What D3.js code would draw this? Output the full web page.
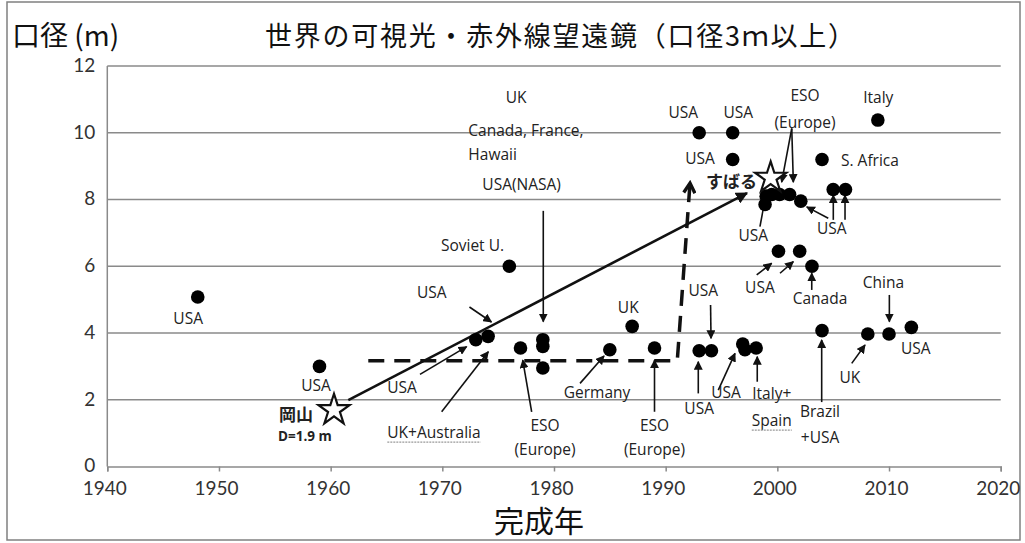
<!DOCTYPE html>
<html><head><meta charset="utf-8">
<script src="https://cdn.jsdelivr.net/npm/d3@7"></script>
<style>body{margin:0;background:#fff}svg{display:block}</style>
</head><body>
<svg id="c" width="1025" height="543"></svg>
<script>
// ---- data ----
const titleText = "世界の可視光・赤外線望遠鏡（口径3ｍ以上）";
const yAxisTitle = "口径 (m)";
const xAxisTitle = "完成年";
const xTicks = [1940,1950,1960,1970,1980,1990,2000,2010,2020];
const yTicks = [0,2,4,6,8,10,12];
const years = [1948.1,1959.0,1973.0,1974.1,1976.0,1977.0,1979.0,1979.0,1979.0,1985.0,1987.0,1989.0,
  1993.0,1994.1,1996.9,1997.1,1998.1,1993.0,1996.0,1996.0,1998.9,1999.0,1999.5,2000.2,2001.1,2002.1,
  2000.1,2002.0,2003.1,2004.0,2005.0,2006.1,2004.0,2008.1,2010.0,2012.0,2009.0];
const diam = [5.08,3.0,3.8,3.9,6.0,3.55,3.8,3.6,2.95,3.5,4.2,3.55,
  3.47,3.47,3.67,3.5,3.55,10.0,10.0,9.2,7.85,8.1,8.15,8.15,8.15,7.95,
  6.45,6.45,6.0,9.2,8.3,8.3,4.07,3.97,3.97,4.17,10.38];
const starYears = [1960.3,1999.4];
const starDiam = [1.69,8.65];
// labels: text, year, value, anchor, bold
const labelText = ["USA","USA","岡山","D=1.9 m","Soviet U.","USA","USA","UK+Australia","UK","Canada, France,","Hawaii","USA(NASA)",
  "ESO","(Europe)","Germany","UK","ESO","(Europe)","USA","USA","USA","Italy+","Spain","Brazil","+USA","UK","China","USA",
  "USA","Canada","USA","USA","ESO","(Europe)","S. Africa","Italy","USA","USA","USA","すばる"];
const labelYear = [1947.24,1958.69,1956.9,1957.7,1972.7,1969.05,1966.4,1969.25,1976.6,1972.33,1972.33,1977.1,
  1979.2,1979.2,1983.85,1986.65,1989.0,1989.0,1993.37,1993.0,1995.4,1999.5,1999.5,2003.82,2003.82,2006.5,2009.5,2012.4,
  1998.44,2003.82,1997.85,2004.87,2002.48,2002.48,2005.7,2009.04,1991.58,1996.5,1993.07,1995.9];
const labelVal = [4.45,2.44,1.60,0.91,6.64,5.24,2.38,1.03,11.06,10.08,9.36,8.46,
  1.24,0.52,2.23,4.79,1.24,0.52,5.29,1.74,2.23,2.19,1.39,1.66,0.88,2.69,5.54,3.54,
  5.39,5.04,6.94,7.14,11.13,10.33,9.18,11.08,10.63,10.63,9.23,8.58];
const labelAnchor = ["m","m","m","m","m","m","m","m","m","s","s","m",
  "m","m","m","m","m","m","m","m","m","m","m","m","m","m","m","m",
  "m","m","m","m","m","m","s","m","m","m","m","m"];
const labelBold = [0,0,1,1,0,0,0,0,0,0,0,0, 0,0,0,0,0,0,0,0,0,0,0,0,0,0,0,0, 0,0,0,0,0,0,0,0,0,0,0,1];
const underlined = ["UK+Australia","Spain"];
// annotation arrows: from (year,value) to (year,value)
const arrowFromYear = [1972.43,1968.0,1969.94,1979.04,1978.0,1982.33,1989.0,1994.02,1992.92,1994.71,1998.2,2003.97,2006.66,2010.03,
  1998.15,2000.24,2003.08,1998.44,2004.56,2005.01,2006.06,2001.29,2001.29];
const arrowFromVal = [4.78,2.76,1.64,7.66,1.64,2.49,1.64,4.84,2.19,2.29,2.54,1.93,3.09,5.14,
  5.74,5.79,5.29,7.19,7.44,7.39,7.39,10.13,10.13];
const arrowToYear = [1974.4,1972.18,1974.12,1979.04,1977.2,1984.48,1989.0,1994.06,1992.92,1996.21,1998.2,2003.97,2007.85,2010.03,
  1999.49,2001.43,2003.08,1998.89,2002.63,2005.01,2006.06,2000.39,2001.43];
const arrowToVal = [4.33,3.59,3.44,4.34,3.19,3.31,3.19,3.84,3.14,3.39,3.29,3.79,3.64,4.34,
  6.09,6.14,5.79,7.99,7.78,8.13,8.13,8.52,8.52];
// trend lines
const solidYears = [1961.58,1997.28];
const solidVals = [1.99,8.19];
const dashYears = [1963.37,1991.04,1992.18];
const dashVals = [3.17,3.17,8.49];

// ---- drawing ----
const svg = d3.select("#c");
const x = d3.scaleLinear().domain([1940,2020]).range([107.3,1000.7]);
const y = d3.scaleLinear().domain([0,12]).range([466.5,66]);
const LAT = "Lato, 'Noto Sans', sans-serif";
const LBL = "'Open Sans', 'Noto Sans', sans-serif";
const CJK = "'Noto Sans CJK JP', sans-serif";

svg.append("rect").attr("x",7).attr("y",2).attr("width",1013).attr("height",538)
  .attr("fill","#fff").attr("stroke","#808080").attr("stroke-width",1.5);

const defs = svg.append("defs");
defs.append("marker").attr("id","ah").attr("viewBox","0 0 10 10").attr("refX",9).attr("refY",5)
  .attr("markerWidth",9).attr("markerHeight",9).attr("markerUnits","userSpaceOnUse").attr("orient","auto")
  .append("path").attr("d","M0,0 L10,5 L0,10 Z").attr("fill","#111");
defs.append("marker").attr("id","ah2").attr("viewBox","0 0 10 10").attr("refX",9).attr("refY",5)
  .attr("markerWidth",12).attr("markerHeight",12).attr("markerUnits","userSpaceOnUse").attr("orient","auto")
  .append("path").attr("d","M0,0 L10,5 L0,10 Z").attr("fill","#111");
defs.append("marker").attr("id","chev").attr("viewBox","0 0 10 10").attr("refX",8).attr("refY",5)
  .attr("markerWidth",14).attr("markerHeight",14).attr("markerUnits","userSpaceOnUse").attr("orient","auto")
  .append("path").attr("d","M1,1 L8,5 L1,9").attr("fill","none").attr("stroke","#111").attr("stroke-width",2.4);

// gridlines
svg.append("g").selectAll("line").data(yTicks.filter(d=>d>0)).join("line")
  .attr("x1",x(1940)).attr("x2",x(2020)).attr("y1",d=>y(d)).attr("y2",d=>y(d))
  .attr("stroke","#8a8a8a").attr("stroke-width",1.5);

// axes
const gx = svg.append("g").attr("transform",`translate(0,${y(0)})`)
  .call(d3.axisBottom(x).tickValues(xTicks).tickFormat(d3.format("d")).tickSize(5).tickPadding(10));
const gy = svg.append("g").attr("transform",`translate(${x(1940)},0)`)
  .call(d3.axisLeft(y).tickValues(yTicks).tickSize(0).tickPadding(12));
[gx,gy].forEach(g=>{
  g.select(".domain").attr("stroke","#8a8a8a").attr("stroke-width",1.5);
  g.selectAll(".tick line").attr("stroke","#8a8a8a").attr("stroke-width",1.5);
  g.selectAll("text").attr("font-family",LAT).attr("font-size",19).attr("fill","#333");
});
gx.selectAll("text").attr("dx",-3);
gy.selectAll("text").attr("dy","0.28em");
gy.select(".domain").attr("d",`M0,${y(0)}V${y(12)}`);

// trend lines
svg.append("path").datum(solidYears.map((d,i)=>[d,solidVals[i]]))
  .attr("d",d3.line().x(d=>x(d[0])).y(d=>y(d[1])))
  .attr("fill","none").attr("stroke","#111").attr("stroke-width",2.6).attr("marker-end","url(#ah2)");
svg.append("path").datum(dashYears.map((d,i)=>[d,dashVals[i]]))
  .attr("d",d3.line().x(d=>x(d[0])).y(d=>y(d[1])))
  .attr("fill","none").attr("stroke","#111").attr("stroke-width",3.5).attr("stroke-dasharray","16,10")
  .attr("marker-end","url(#chev)");

// annotation arrows
svg.append("g").selectAll("line").data(arrowFromYear.map((d,i)=>i)).join("line")
  .attr("x1",i=>x(arrowFromYear[i])).attr("y1",i=>y(arrowFromVal[i]))
  .attr("x2",i=>x(arrowToYear[i])).attr("y2",i=>y(arrowToVal[i]))
  .attr("stroke","#111").attr("stroke-width",1.6).attr("marker-end","url(#ah)");

// dots
svg.append("g").selectAll("circle").data(years.map((d,i)=>[d,diam[i]])).join("circle")
  .attr("cx",d=>x(d[0])).attr("cy",d=>y(d[1])).attr("r",6.8).attr("fill","#000");

// stars
svg.append("g").selectAll("path").data(starYears.map((d,i)=>[d,starDiam[i]])).join("path")
  .attr("transform",d=>`translate(${x(d[0])},${y(d[1])})`)
  .attr("d",d3.symbol().type(d3.symbolStar).size(300))
  .attr("fill","#fff").attr("stroke","#111").attr("stroke-width",2.2);

// labels
const lg = svg.append("g");
labelText.forEach((t,i)=>{
  const isCJK = /[\u3040-\u9fff]/.test(t);
  const el = lg.append("text").attr("x",x(labelYear[i])).attr("y",y(labelVal[i]))
    .attr("text-anchor",labelAnchor[i]==="s"?"start":"middle").attr("dominant-baseline","central")
    .attr("font-family",isCJK?CJK:LBL).attr("font-size",isCJK?17:(labelBold[i]?13.5:15.5))
    .attr("font-weight",labelBold[i]?"bold":"normal").attr("fill","#222").text(t);
  if(underlined.includes(t)){
    const b = el.node().getBBox();
    lg.append("line").attr("x1",b.x).attr("x2",b.x+b.width).attr("y1",b.y+b.height-1).attr("y2",b.y+b.height-1)
      .attr("stroke","#999").attr("stroke-width",1.2).attr("stroke-dasharray","2,1");
  }
});

// titles
svg.append("text").attr("x",265).attr("y",46).attr("font-family",CJK).attr("font-size",27)
  .attr("textLength",590).attr("lengthAdjust","spacing").attr("fill","#111").text(titleText);
svg.append("text").attr("x",12).attr("y",46).attr("font-family",CJK).attr("font-size",28)
  .attr("fill","#111").text(yAxisTitle);
svg.append("text").attr("x",539).attr("y",532).attr("text-anchor","middle").attr("font-family",CJK)
  .attr("font-size",30).attr("fill","#111").text(xAxisTitle);
</script>
</body></html>
